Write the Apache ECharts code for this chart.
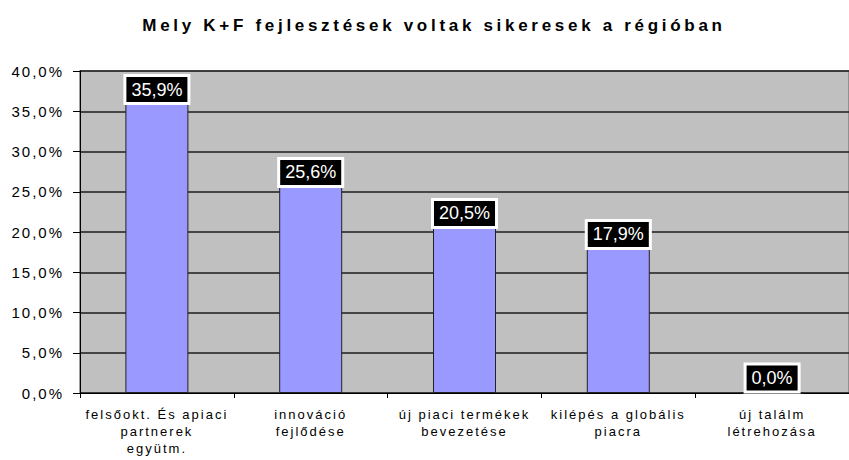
<!DOCTYPE html>
<html>
<head>
<meta charset="utf-8">
<script src="https://cdn.jsdelivr.net/npm/echarts@6/dist/echarts.min.js"></script>
<style>
  html, body { margin: 0; padding: 0; background: #fff; }
  #chart { width: 849px; height: 460px; }
  /* the original uses widely tracked text; the family strings below act as markers */
  #chart text[style*="Helvetica"] { letter-spacing: 3.7px; }
  #chart text[style*="Arimo"] { letter-spacing: 2px; }
</style>
</head>
<body>
<div id="chart"></div>
<script>
// values
var categories = [
  'felsőokt. És apiaci\npartnerek\negyütm.',
  'innováció\nfejlődése',
  'új piaci termékek\nbevezetése',
  'kilépés a globális\npiacra',
  'új találm\nlétrehozása'
];
var shares = [35.9, 25.6, 20.5, 17.9, 0.0];
var yTicks = [0, 5, 10, 15, 20, 25, 30, 35, 40];

function pct(v) {
  return v.toFixed(1).replace('.', ',') + '%';
}

var chart = echarts.init(document.getElementById('chart'), null, { renderer: 'svg' });

chart.setOption({
  animation: false,
  title: {
    text: 'Mely K+F fejlesztések voltak sikeresek a régióban',
    left: 429,
    textAlign: 'center',
    top: 12,
    textStyle: {
      fontFamily: 'Liberation Sans, Helvetica',
      fontSize: 17,
      fontWeight: 'bold',
      color: '#000'
    }
  },
  grid: {
    left: 80,
    top: 71,
    width: 780,
    bottom: 67,
    show: true,
    backgroundColor: '#c0c0c0',
    borderColor: '#808080',
    borderWidth: 1.5
  },
  xAxis: {
    type: 'category',
    data: categories,
    axisLine: { lineStyle: { color: '#000', width: 1 } },
    axisTick: { show: true, length: 5, lineStyle: { color: '#000' } },
    axisLabel: {
      interval: 0,
      margin: 13,
      fontFamily: 'Liberation Sans, Arimo',
      fontSize: 13,
      lineHeight: 17,
      color: '#000'
    }
  },
  yAxis: {
    type: 'value',
    min: yTicks[0],
    max: yTicks[yTicks.length - 1],
    interval: 5,
    axisLine: { show: true, lineStyle: { color: '#000', width: 1 } },
    axisTick: { show: true, length: 7, lineStyle: { color: '#000' } },
    splitLine: { lineStyle: { color: '#1e1e1e', width: 1.5 } },
    axisLabel: {
      margin: 16,
      formatter: function (v) { return pct(v); },
      fontFamily: 'Liberation Sans, Arimo',
      fontSize: 15,
      color: '#000'
    }
  },
  series: [{
    type: 'bar',
    data: shares,
    barWidth: 63,
    itemStyle: { color: '#9999ff', borderColor: '#222', borderWidth: 1 },
    label: {
      show: true,
      position: 'top',
      distance: 2,
      formatter: function (p) { return pct(p.value); },
      fontFamily: 'Liberation Sans, sans-serif',
      fontSize: 18,
      fontWeight: 'normal',
      lineHeight: 19,
      color: '#fff',
      backgroundColor: '#000',
      borderColor: '#fff',
      borderWidth: 3,
      padding: [3, 5, 3, 5]
    }
  }]
});
</script>
</body>
</html>
